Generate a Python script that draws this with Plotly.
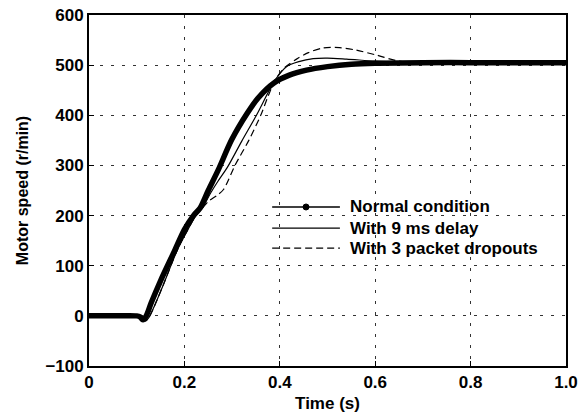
import plotly.graph_objects as go

# Time (s) and motor speed (r/min) for each condition
t_normal = [0, 0.05, 0.10, 0.107, 0.113, 0.12, 0.13, 0.15, 0.18, 0.2, 0.219, 0.233, 0.25, 0.271,
            0.299, 0.331, 0.355, 0.387, 0.42, 0.456, 0.5, 0.55, 0.6, 0.7, 0.8, 1.0]
y_normal = [0, 0, 0, -2, -8, 0, 25, 70, 131, 172, 200, 215, 250, 291,
            351, 403, 435, 464, 480, 490, 497, 502, 504, 505, 505, 505]

t_delay = [0, 0.10, 0.112, 0.118, 0.125, 0.135, 0.155, 0.185, 0.205, 0.224, 0.238, 0.255, 0.27,
           0.29, 0.32, 0.351, 0.39, 0.414, 0.44, 0.47, 0.5, 0.54, 0.6, 0.65, 0.7, 1.0]
y_delay = [0, 0, 0, -10, -4, 15, 60, 131, 168, 200, 216, 245, 268,
           296, 348, 400, 470, 497, 507, 513, 514, 512, 508, 506, 505, 505]

t_drop = [0, 0.10, 0.112, 0.118, 0.125, 0.135, 0.155, 0.185, 0.205, 0.224, 0.238, 0.25, 0.268, 0.282,
          0.306, 0.335, 0.36, 0.375, 0.39, 0.41, 0.435, 0.46, 0.49, 0.525, 0.56, 0.603, 0.645, 0.7, 1.0]
y_drop = [0, 0, 0, -10, -4, 15, 60, 131, 168, 200, 215, 228, 240, 252,
          300, 350, 400, 437, 470, 495, 512, 525, 534, 535, 530, 520, 509, 505, 505]

series_names = ["Normal condition", "With 9 ms delay", "With 3 packet dropouts"]

x_ticks = [0, 0.2, 0.4, 0.6, 0.8, 1.0]
x_ticklabels = ["0", "0.2", "0.4", "0.6", "0.8", "1.0"]
y_ticks = [-100, 0, 100, 200, 300, 400, 500, 600]

FONT = "Liberation Sans, Arial, sans-serif"
SPL = dict(shape="spline", smoothing=0.8)
DASH = "7px,4px"

fig = go.Figure()
fig.add_trace(go.Scatter(x=t_normal, y=y_normal, mode="lines", line=dict(color="black", width=5.5, **SPL),
                         showlegend=False, name=series_names[0]))
fig.add_trace(go.Scatter(x=t_delay, y=y_delay, mode="lines", line=dict(color="black", width=1.2, **SPL),
                         showlegend=False, name=series_names[1]))
fig.add_trace(go.Scatter(x=t_drop, y=y_drop, mode="lines", line=dict(color="black", width=1.2, dash=DASH, **SPL),
                         showlegend=False, name=series_names[2]))

axis_common = dict(
    showline=True, linecolor="black", linewidth=1.8, mirror=True,
    ticks="inside", ticklen=5, tickcolor="black", tickwidth=1,
    showgrid=True, gridcolor="#333333", gridwidth=1, griddash="3px,8px",
    zeroline=False, automargin=False,
    tickfont=dict(family=FONT, size=17, color="black", weight="bold"),
)

fig.update_xaxes(range=[0, 1.0], tickvals=x_ticks, ticktext=x_ticklabels, ticklabelstandoff=0,
                 title=dict(text="Time (s)", font=dict(family=FONT, size=17, color="black", weight="bold"), standoff=6),
                 **axis_common)
fig.update_yaxes(range=[-100, 600], tickvals=y_ticks,
                 title=dict(text="Motor speed (r/min)", font=dict(family=FONT, size=16, color="black", weight="bold"), standoff=13),
                 **axis_common)

# legend key drawn in paper coordinates
leg_x0, leg_x1, leg_text_x = 0.384, 0.526, 0.543
leg_rows = [0.453, 0.393, 0.336]
leg_dash = ["solid", "solid", DASH]
for name, yy, dsh in zip(series_names, leg_rows, leg_dash):
    fig.add_shape(type="line", xref="paper", yref="paper", x0=leg_x0, x1=leg_x1, y0=yy, y1=yy,
                  line=dict(color="black", width=1.3, dash=dsh))
    fig.add_annotation(xref="paper", yref="paper", x=leg_text_x, y=yy, text=name, showarrow=False,
                       xanchor="left", yanchor="middle",
                       font=dict(family=FONT, size=17, color="black", weight="bold"))
cx = (leg_x0 + leg_x1) / 2
fig.add_shape(type="circle", xref="paper", yref="paper",
              x0=cx - 3 / 477, x1=cx + 3 / 477,
              y0=leg_rows[0] - 3 / 351, y1=leg_rows[0] + 3 / 351,
              line=dict(color="black", width=1), fillcolor="black")

fig.update_layout(
    width=586, height=417,
    margin=dict(l=89, r=20, t=15, b=51),
    plot_bgcolor="white", paper_bgcolor="white",
    showlegend=False,
)

fig.write_html("out.html", config={"displayModeBar": False},
               post_script="document.body.style.margin='0';")
